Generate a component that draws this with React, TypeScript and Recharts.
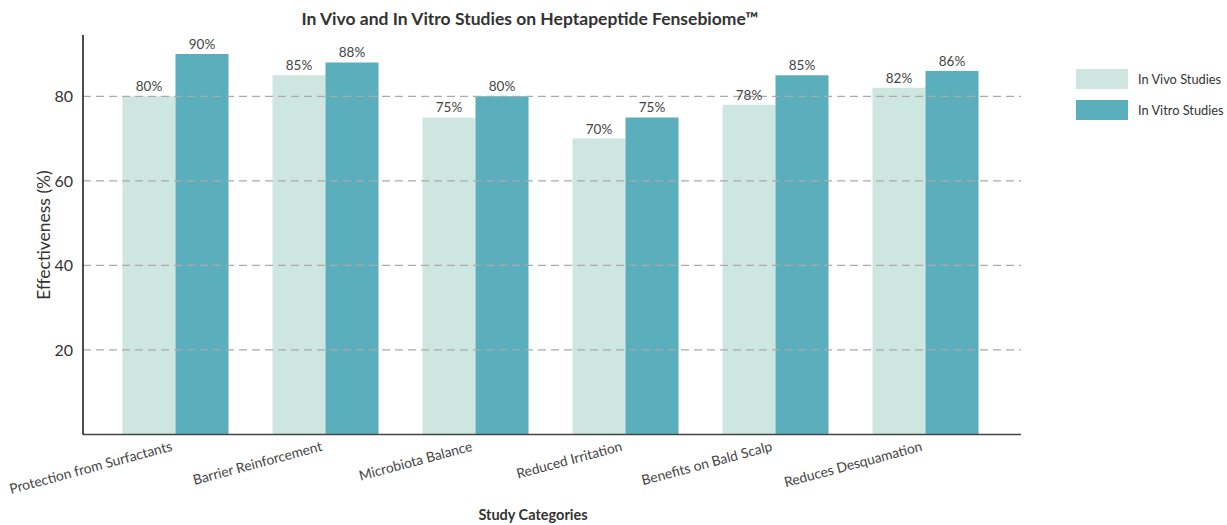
import React from "react";
import { BarChart, Bar, XAxis, YAxis, ReferenceLine, LabelList, Label } from "recharts";

const categories = [
  "Protection from Surfactants",
  "Barrier Reinforcement",
  "Microbiota Balance",
  "Reduced Irritation",
  "Benefits on Bald Scalp",
  "Reduces Desquamation",
];
const inVivo = [80, 85, 75, 70, 78, 82];
const inVitro = [90, 88, 80, 75, 85, 86];
const yTicks = [20, 40, 60, 80];
const seriesNames = ["In Vivo Studies", "In Vitro Studies"];

const data = categories.map((c, i) => ({ category: c, inVivo: inVivo[i], inVitro: inVitro[i] }));

const FONT = "Lato, 'Open Sans', sans-serif";
const LIGHT = "#cee6e0";
const DARK = "#5baebb";
const COLORS = [LIGHT, DARK];

const RotTick = (props: any) => {
  const { x, y, payload } = props;
  const ax = x - 2;
  const ay = y + 8;
  return (
    <text
      x={ax}
      y={ay}
      transform={`rotate(-15, ${ax}, ${ay})`}
      textAnchor="end"
      fontFamily={FONT}
      fontSize={13.8}
      fill="#444"
    >
      {payload.value}
    </text>
  );
};

export default function App() {
  return (
    <div style={{ position: "absolute", left: 0, top: 0, width: 1227, height: 525, background: "#fff" }}>
      <div
        style={{
          position: "absolute",
          left: 0,
          width: 1060,
          top: 8,
          textAlign: "center",
          fontFamily: FONT,
          fontWeight: 700,
          fontSize: 17.5,
          color: "#333",
        }}
      >
        In Vivo and In Vitro Studies on Heptapeptide Fensebiome™
      </div>
      <div
        style={{
          position: "absolute",
          left: 1076,
          top: 69,
          fontFamily: FONT,
          fontSize: 12.8,
          color: "#333",
          whiteSpace: "nowrap",
        }}
      >
        {seriesNames.map((n, i) => (
          <div key={n} style={{ display: "flex", alignItems: "center", height: 20, marginBottom: 11 }}>
            <div style={{ width: 52, height: 20, background: COLORS[i], marginRight: 10 }} />
            <span>{n}</span>
          </div>
        ))}
      </div>
      <BarChart
        width={1227}
        height={525}
        data={data}
        margin={{ top: 35, right: 206, bottom: 30.5, left: 23 }}
        barCategoryGap="15%"
        barGap={0}
        style={{ position: "absolute", left: 0, top: 0 }}
      >
        <XAxis
          dataKey="category"
          height={60}
          tickLine={false}
          axisLine={{ stroke: "#444", strokeWidth: 1.5 }}
          tick={<RotTick />}
          interval={0}
          padding={{ left: 17, right: 21 }}
        >
          <Label
            content={() => (
              <text x={533} y={520} textAnchor="middle" fontFamily={FONT} fontWeight={700} fontSize={14.5} fill="#333">
                Study Categories
              </text>
            )}
          />
        </XAxis>
        <YAxis
          width={60}
          domain={[0, 94.5]}
          ticks={yTicks}
          tickLine={false}
          axisLine={{ stroke: "#111", strokeWidth: 1.5 }}
          tick={{ fontFamily: FONT, fontSize: 16, fill: "#333" }}
          tickMargin={4}
        >
          <Label
            content={() => (
              <text
                x={50}
                y={235}
                transform="rotate(-90, 50, 235)"
                textAnchor="middle"
                fontFamily={FONT}
                fontSize={17.5}
                fill="#333"
              >
                Effectiveness (%)
              </text>
            )}
          />
        </YAxis>
        <Bar dataKey="inVivo" name={seriesNames[0]} fill={LIGHT} isAnimationActive={false}>
          <LabelList
            dataKey="inVivo"
            position="top"
            offset={5}
            formatter={(v: any) => `${v}%`}
            style={{ fontFamily: FONT, fontSize: 13.5, fill: "#444" }}
          />
        </Bar>
        <Bar dataKey="inVitro" name={seriesNames[1]} fill={DARK} isAnimationActive={false}>
          <LabelList
            dataKey="inVitro"
            position="top"
            offset={5}
            formatter={(v: any) => `${v}%`}
            style={{ fontFamily: FONT, fontSize: 13.5, fill: "#444" }}
          />
        </Bar>
        {yTicks.map((t) => (
          <ReferenceLine key={t} y={t} stroke="#aaa" strokeWidth={1.2} strokeDasharray="8 5" />
        ))}
      </BarChart>
    </div>
  );
}
